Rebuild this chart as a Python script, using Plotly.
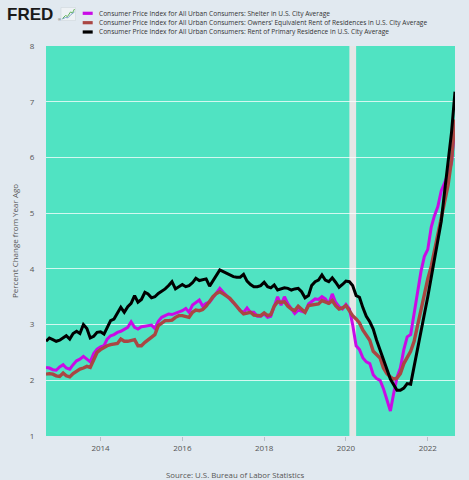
import pandas as pd
import plotly.graph_objects as go

# ---------------- data ----------------
start_month = "2012-09-01"
n_months = 121
dates = pd.date_range(start_month, periods=n_months, freq="MS")

series_names = [
    "Consumer Price Index for All Urban Consumers: Shelter in U.S. City Average",
    "Consumer Price Index for All Urban Consumers: Owners' Equivalent Rent of Residences in U.S. City Average",
    "Consumer Price Index for All Urban Consumers: Rent of Primary Residence in U.S. City Average",
]

shelter = [
    2.23, 2.22, 2.19, 2.18, 2.24, 2.28, 2.22, 2.20, 2.28, 2.35, 2.38, 2.43,
    2.38, 2.33, 2.48, 2.56, 2.60, 2.62, 2.74, 2.80, 2.82, 2.86, 2.88, 2.92,
    2.95, 3.05, 2.95, 2.92, 2.96, 2.97, 2.98, 2.99, 2.93, 3.06, 3.13, 3.16,
    3.19, 3.18, 3.20, 3.22, 3.25, 3.29, 3.22, 3.35, 3.40, 3.44, 3.33, 3.38,
    3.40, 3.48, 3.55, 3.65, 3.58, 3.52, 3.46, 3.40, 3.33, 3.25, 3.22, 3.30,
    3.22, 3.22, 3.15, 3.15, 3.19, 3.13, 3.15, 3.33, 3.50, 3.35, 3.50, 3.37,
    3.28, 3.20, 3.26, 3.24, 3.22, 3.37, 3.41, 3.46, 3.45, 3.50, 3.46, 3.37,
    3.55, 3.40, 3.32, 3.28, 3.36, 3.28, 3.00, 2.62, 2.55, 2.40, 2.33, 2.30,
    2.10, 2.03, 2.00, 1.85, 1.65, 1.45, 1.75, 2.05, 2.22, 2.55, 2.78, 2.82,
    3.20, 3.55, 3.95, 4.22, 4.35, 4.75, 4.95, 5.12, 5.40, 5.55, 5.70, 5.90,
    6.62,
]

oer = [
    2.11, 2.12, 2.11, 2.08, 2.07, 2.13, 2.08, 2.06, 2.12, 2.17, 2.20, 2.22,
    2.25, 2.23, 2.38, 2.50, 2.55, 2.59, 2.62, 2.64, 2.65, 2.66, 2.74, 2.70,
    2.70, 2.72, 2.73, 2.62, 2.62, 2.68, 2.72, 2.78, 2.82, 2.98, 3.03, 3.07,
    3.07, 3.08, 3.13, 3.16, 3.16, 3.15, 3.13, 3.22, 3.26, 3.25, 3.27, 3.33,
    3.42, 3.50, 3.56, 3.59, 3.55, 3.50, 3.47, 3.40, 3.32, 3.25, 3.19, 3.20,
    3.22, 3.17, 3.16, 3.16, 3.21, 3.16, 3.18, 3.33, 3.41, 3.40, 3.41, 3.33,
    3.28, 3.25, 3.33, 3.28, 3.22, 3.34, 3.35, 3.36, 3.37, 3.43, 3.40, 3.38,
    3.43, 3.34, 3.28, 3.30, 3.34, 3.25, 3.16, 3.10, 3.03, 2.90, 2.80, 2.72,
    2.52, 2.46, 2.40, 2.22, 2.12, 2.06, 2.02, 2.04, 2.12, 2.30, 2.42, 2.52,
    2.70, 2.98, 3.30, 3.58, 3.82, 4.05, 4.32, 4.59, 4.85, 5.18, 5.50, 5.95,
    6.68,
]

rent = [
    2.70, 2.76, 2.73, 2.70, 2.72, 2.76, 2.80, 2.74, 2.84, 2.88, 2.84, 3.00,
    2.93, 2.76, 2.79, 2.86, 2.87, 2.83, 2.95, 3.07, 3.10, 3.20, 3.31, 3.22,
    3.32, 3.38, 3.52, 3.40, 3.45, 3.58, 3.55, 3.48, 3.50, 3.56, 3.60, 3.64,
    3.70, 3.77, 3.64, 3.68, 3.72, 3.68, 3.70, 3.75, 3.83, 3.79, 3.80, 3.82,
    3.69, 3.78, 3.87, 3.98, 3.95, 3.92, 3.90, 3.86, 3.85, 3.85, 3.90, 3.78,
    3.72, 3.68, 3.68, 3.70, 3.76, 3.68, 3.66, 3.71, 3.62, 3.64, 3.66, 3.65,
    3.62, 3.64, 3.65, 3.59, 3.48, 3.52, 3.70, 3.77, 3.80, 3.89, 3.80, 3.77,
    3.84, 3.76, 3.67, 3.72, 3.78, 3.77, 3.70, 3.52, 3.49, 3.30, 3.15, 3.05,
    2.92, 2.72, 2.55, 2.40, 2.20, 2.02, 1.92, 1.82, 1.82, 1.86, 1.94, 1.93,
    2.25, 2.55, 2.88, 3.20, 3.50, 3.85, 4.15, 4.47, 4.85, 5.40, 5.90, 6.45,
    7.18,
]

recession_start = "2020-02-01"
recession_end = "2020-04-01"
x_tick_years = [2014, 2016, 2018, 2020, 2022]
y_ticks = [1, 2, 3, 4, 5, 6, 7, 8]
source_text = "Source: U.S. Bureau of Labor Statistics"
y_title = "Percent Change from Year Ago"

# ---------------- styling ----------------
W, H = 469, 480
ML, MR, MT, MB = 46, 14, 46, 44
BG = "#e1e9f0"
colors = ["#c90be6", "#aa4643", "#000000"]
widths = [3, 3.4, 3]

def px_x(px):
    return (px - ML) / (W - ML - MR)

def px_y(py):
    return (H - MB - py) / (H - MT - MB)

fig = go.Figure()
for name, vals, c, w in zip(series_names, [shelter, oer, rent], colors, widths):
    fig.add_trace(go.Scatter(
        x=dates, y=vals, mode="lines", name=name,
        line=dict(color=c, width=w, shape="linear"),
        showlegend=False, hoverinfo="x+y",
    ))

shapes = [
    dict(type="rect", xref="x", yref="paper", x0=recession_start, x1=recession_end,
         y0=0, y1=1, fillcolor="#e6e6e6", line=dict(width=0), layer="between"),
]
annotations = []

# legend (manual)
leg_rows = [13.3, 22.7, 32.0]
for name, c, ry in zip(series_names, colors, leg_rows):
    shapes.append(dict(type="rect", xref="paper", yref="paper",
                       x0=px_x(82.7), x1=px_x(92.7), y0=px_y(ry + 1.6), y1=px_y(ry - 1.6),
                       fillcolor=c, line=dict(width=0)))
    annotations.append(dict(text=name, xref="paper", yref="paper",
                            x=px_x(96.5), y=px_y(ry), xanchor="left", yanchor="middle",
                            showarrow=False, font=dict(family="Open Sans", size=6.6, color="#333333")))

# FRED logo
annotations.append(dict(text="<b>FRED</b>", xref="paper", yref="paper",
                        x=px_x(5.0), y=px_y(14.5), xanchor="left", yanchor="middle",
                        showarrow=False, font=dict(family="Liberation Sans", size=17, color="#1a1a1a")))
annotations.append(dict(text="®", xref="paper", yref="paper",
                        x=px_x(55.5), y=px_y(19), xanchor="left", yanchor="middle",
                        showarrow=False, font=dict(family="Liberation Sans", size=4, color="#333")))
shapes.append(dict(type="rect", xref="paper", yref="paper",
                   x0=px_x(61), x1=px_x(75.5), y0=px_y(20.5), y1=px_y(7.5),
                   fillcolor="#eef2f5", line=dict(color="#cfd6dc", width=0.6)))
icon_pts_g = [(62.5, 18.5), (65.5, 15.5), (67.5, 16.5), (70.5, 12), (72.5, 12.8), (74.5, 9)]
icon_pts_b = [(62.5, 19), (65.5, 17.5), (68, 17.8), (71, 14.5), (74.5, 12)]
for pts, col in [(icon_pts_g, "#5fb35a"), (icon_pts_b, "#7fa6c9")]:
    path = "M " + " L ".join(f"{px_x(a):.4f},{px_y(b):.4f}" for a, b in pts)
    shapes.append(dict(type="path", xref="paper", yref="paper", path=path,
                       line=dict(color=col, width=1)))

# source
annotations.append(dict(text=source_text, xref="paper", yref="paper",
                        x=px_x(234.5), y=px_y(475), xanchor="center", yanchor="middle",
                        showarrow=False, font=dict(family="Open Sans", size=7.8, color="#555555")))

fig.update_layout(
    width=W, height=H, autosize=False,
    margin=dict(l=ML, r=MR, t=MT, b=MB, pad=0),
    paper_bgcolor=BG, plot_bgcolor="#50e3c2",
    shapes=shapes, annotations=annotations,
    font=dict(family="Open Sans", color="#555555"),
    xaxis=dict(
        type="date", range=[dates[0], dates[-1]],
        tickvals=[f"{y}-01-01" for y in x_tick_years],
        ticktext=[str(y) for y in x_tick_years],
        ticks="outside", ticklen=4, tickcolor="#b8c0c8", tickwidth=1,
        showgrid=False, zeroline=False, showline=False,
        tickfont=dict(size=8, color="#555555"),
    ),
    yaxis=dict(
        range=[1, 8], tickvals=y_ticks,
        ticks="outside", ticklen=9, tickcolor="rgba(0,0,0,0)",
        showgrid=True, gridcolor="rgba(255,255,255,0.75)", gridwidth=1,
        zeroline=False, showline=False,
        tickfont=dict(size=8, color="#555555"),
        title=dict(text=y_title, font=dict(size=8, color="#555555"), standoff=10),
    ),
)

fig.write_html(
    "out.html",
    config={"displayModeBar": False, "staticPlot": True},
    post_script=(
        "document.body.style.margin='0';document.body.style.padding='0';"
        "document.body.style.overflow='hidden';"
        f"document.body.style.background='{BG}';"
    ),
)
